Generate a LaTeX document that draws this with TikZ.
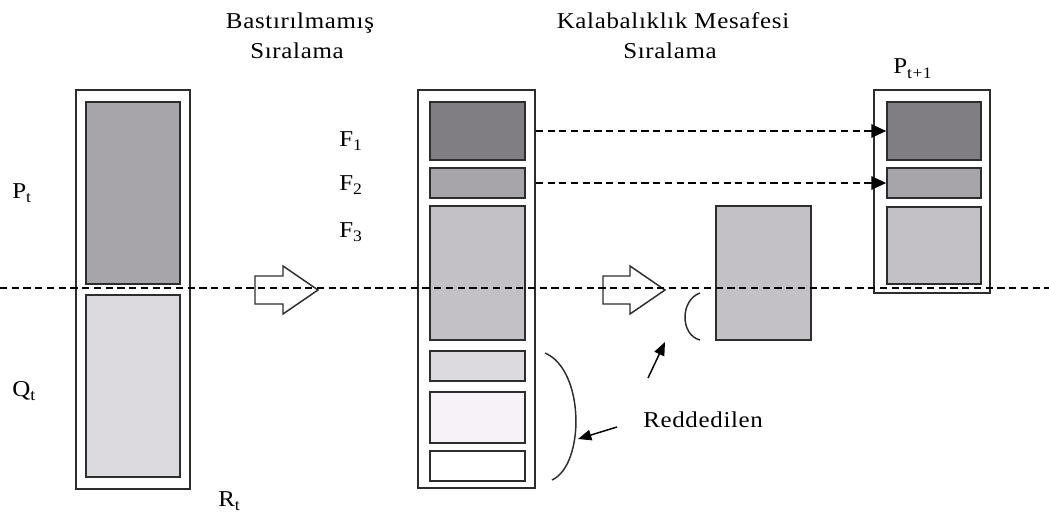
\documentclass[tikz,border=0pt]{standalone}
\usepackage{fontspec}
\setmainfont[FakeStretch=1.1,LetterSpace=3]{Liberation Serif}
\usetikzlibrary{arrows.meta,fit}

\definecolor{fdark}{RGB}{128,125,131}
\definecolor{fmid}{RGB}{168,165,170}
\definecolor{flight}{RGB}{196,193,198}
\definecolor{fpale}{RGB}{220,218,222}
\definecolor{fwhite}{RGB}{246,242,247}
\definecolor{edge}{RGB}{45,45,45}

\newcommand{\lowidx}[1]{\raisebox{-0.2em}{\fontsize{12}{12}\selectfont #1}}

\tikzset{
  frame/.style={draw=edge, line width=1.2pt, fill=white, inner sep=0pt},
  front/.style={draw=edge, line width=1.3pt, inner sep=0pt},
  lbl/.style={font=\fontsize{17}{20}\selectfont, inner sep=0pt},
  hollow/.style={draw=edge, line width=1.1pt, fill=white, line join=miter},
  level/.style={draw=black, line width=1.1pt, dash pattern=on 5.4pt off 3.4pt},
  carry/.style={draw=black, line width=1.1pt, dash pattern=on 5.4pt off 3.4pt,
    -{Triangle[length=11pt,width=10pt]}},
  pointer/.style={draw=black, line width=1.1pt, -{Triangle[length=10pt,width=8pt]}},
  brace/.style={draw=edge, line width=1.1pt},
}

\begin{document}
\begin{tikzpicture}[x=0.75pt,y=-0.75pt]
\useasboundingbox (0,0) rectangle (1049,517);

% combined population R_t
\node[frame, fit={(76,90) (190,489)}] (R) {};
\node[front, fill=fmid,  fit={(86,102) (180,284)}] (Pbox) {};
\node[front, fill=fpale, fit={(86,295) (180,477)}] (Qbox) {};

% fronts after non-dominated sorting
\node[frame, fit={(418,90) (535,488)}] (M) {};
\node[front, fill=fdark,  fit={(430,102) (525,160)}] (F1m) {};
\node[front, fill=fmid,   fit={(430,168) (525,198)}] (F2m) {};
\node[front, fill=flight, fit={(430,206) (525,340)}] (F3m) {};
\node[front, fill=fpale,  fit={(430,351) (525,381)}] (F4m) {};
\node[front, fill=fwhite, fit={(430,392) (525,443)}] (F5m) {};
\node[front, fill=white,  fit={(430,451) (525,481)}] (F6m) {};

% front F3 sorted by crowding distance
\node[front, fill=flight, fit={(716,206) (811,340)}] (F3s) {};

% new population P_{t+1}
\node[frame, fit={(874,90) (990,293)}] (N) {};
\node[front, fill=fdark,  fit={(887,102) (981,160)}] (N1) {};
\node[front, fill=fmid,   fit={(887,168) (981,198)}] (N2) {};
\node[front, fill=flight, fit={(887,207) (981,284)}] (N3) {};

% hollow process arrows
\draw[hollow] (255,276) -- (283,276) -- (283,266) -- (318,290)
  -- (283,314) -- (283,304) -- (255,304) -- cycle;
\draw[hollow] (603,276) -- (630,276) -- (630,266) -- (665,290)
  -- (630,314) -- (630,304) -- (603,304) -- cycle;

% fronts carried over
\draw[carry] (M.east |- F1m.center) -- (N1.west);
\draw[carry] (M.east |- F2m.center) -- (N2.west);

% rejected parts
\draw[brace] (545,353) .. controls (585,370) and (585,465) .. (552,480);
\draw[brace] (700,293) .. controls (680,300) and (680,335) .. (700,340);

\node[lbl, anchor=base west] (rej) at (643,427) {Reddedilen};
\coordinate (rejA) at (617,427);
\coordinate (rejB) at (648,378);
\coordinate (bigB) at (578,439);
\coordinate (smallB) at (665,342);
\draw[pointer] (rejA) -- (bigB);
\draw[pointer] (rejB) -- (smallB);

% labels
\node[lbl, anchor=base] (t1a) at (300,29) {Bastırılmamış};
\node[lbl, anchor=base] (t1b) at (297,59) {Sıralama};
\node[lbl, anchor=base] (t2a) at (673,29) {Kalabalıklık Mesafesi};
\node[lbl, anchor=base] (t2b) at (670,59) {Sıralama};

\node[lbl, anchor=base west] (lp) at (12,198) {P\lowidx{t}};
\node[lbl, anchor=base west] (lq) at (12,396) {Q\lowidx{t}};
\node[lbl, anchor=base west] (lr) at (218,506) {R\lowidx{t}};
\node[lbl, anchor=base west] (lf1) at (339,146) {F\lowidx{1}};
\node[lbl, anchor=base west] (lf2) at (339,190) {F\lowidx{2}};
\node[lbl, anchor=base west] (lf3) at (339,237) {F\lowidx{3}};
\node[lbl, anchor=base west] (ln) at (893,74) {P\lowidx{t+1}};

% boundary between P_t and Q_t
\draw[level] (0,288) -- (1049,288);
\end{tikzpicture}
\end{document}
